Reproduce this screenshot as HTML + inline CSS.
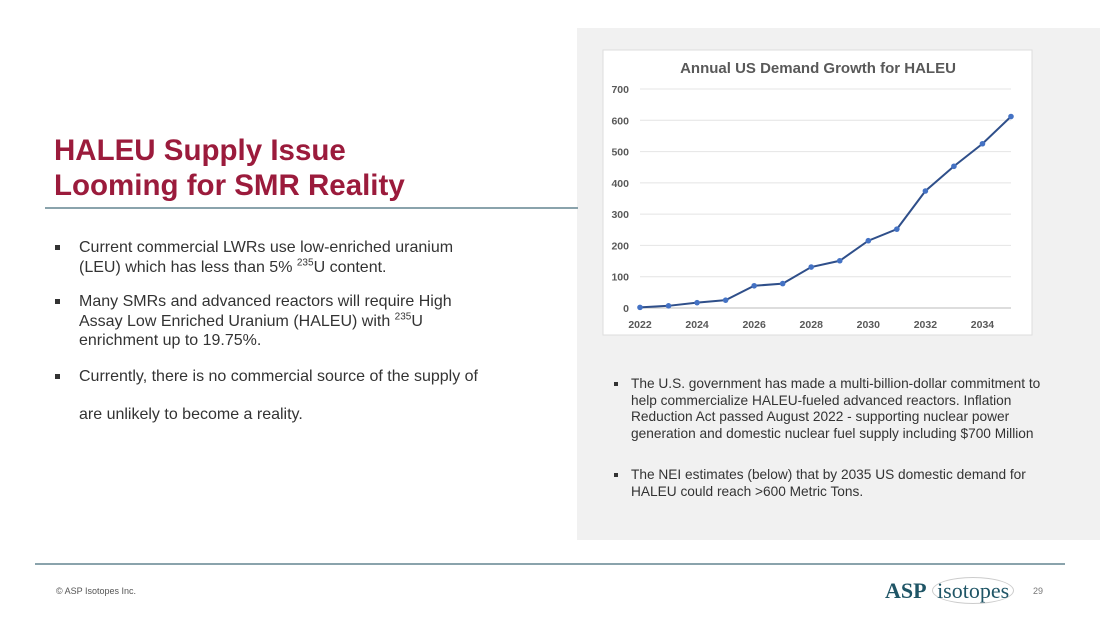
<!DOCTYPE html>
<html><head><meta charset="utf-8"><style>
body{margin:0;width:1100px;height:619px;background:#fff;position:relative;overflow:hidden;font-family:"Liberation Sans",Arial,sans-serif}
.abs{position:absolute}
.title{left:54px;top:133px;color:#9b1b3c;font-weight:bold;font-size:29.5px;line-height:35px}
ul{margin:0;padding:0;list-style:none}
li{position:relative;padding-left:25px;font-size:16px;line-height:19.5px;color:#333}
li:before{content:"";position:absolute;left:1px;top:7px;width:5px;height:5px;background:#333}
.r li{font-size:13.7px;line-height:16.7px;padding-left:19px;color:#333}
.r li:before{top:6px;width:4px;height:4px;left:2px}
sup{font-size:10px;line-height:0}
</style></head><body>
<div class="abs" style="left:577px;top:28px;width:523px;height:512px;background:#f1f1f1"></div>
<div class="abs title">HALEU Supply Issue<br>Looming for SMR Reality</div>
<div class="abs" style="left:45px;top:207px;width:533px;height:2px;background:#8aa3ac"></div>
<ul class="abs" style="left:54px;top:238px;width:427px">
<li>Current commercial LWRs use low-enriched uranium (LEU) which has less than 5% <sup>235</sup>U content.</li>
<li style="margin-top:15px">Many SMRs and advanced reactors will require High Assay Low Enriched Uranium (HALEU) with <sup>235</sup>U enrichment up to 19.75%.</li>
<li style="margin-top:16px">Currently, there is no commercial source of the supply of<br><span style="display:block;height:19px"></span>are unlikely to become a reality.</li>
</ul>
<ul class="abs r" style="left:612px;top:376px;width:440px">
<li>The U.S. government has made a multi-billion-dollar commitment to help commercialize HALEU-fueled advanced reactors. Inflation Reduction Act passed August 2022 - supporting nuclear power generation and domestic nuclear fuel supply including $700 Million</li>
<li style="margin-top:24px">The NEI estimates (below) that by 2035 US domestic demand for HALEU could reach &gt;600 Metric Tons.</li>
</ul>
<svg class="abs" style="left:0;top:0" width="1100" height="619" id="ch"></svg>
<div class="abs" style="left:35px;top:563px;width:1030px;height:2px;background:#8aa3ac"></div>
<div class="abs" style="left:56px;top:586px;font-size:9px;color:#555">© ASP Isotopes Inc.</div>
<div class="abs" style="left:885px;top:578px;font-family:'Liberation Serif',serif;font-size:22px;color:#1f5566"><b>ASP</b> <span style="border:1px solid #ccc;border-radius:50%;padding:0 4px">isotopes</span></div>
<div class="abs" style="left:1033px;top:586px;font-size:9px;color:#777">29</div>
<script>
const years=[2022,2023,2024,2025,2026,2027,2028,2029,2030,2031,2032,2033,2034,2035];
const demand=[2,7,17,25,71,78,131,151,215,252,374,453,525,612];
const yTicks=[0,100,200,300,400,500,600,700];
const xTicks=[2022,2024,2026,2028,2030,2032,2034];
const svg=document.getElementById('ch');const NS='http://www.w3.org/2000/svg';
const X=v=>640+(v-2022)*(1011-640)/13, Y=v=>308-v*(308-89)/700;
function el(t,a,txt){const e=document.createElementNS(NS,t);for(const k in a)e.setAttribute(k,a[k]);if(txt!==undefined)e.textContent=txt;svg.appendChild(e);return e;}
const bg=el('rect',{x:603,y:50,width:429,height:285,fill:'#fff',stroke:'#ddd'});


const t=el('text',{x:818,y:73,'text-anchor':'middle','font-size':15,'font-weight':'bold',fill:'#595959'},'Annual US Demand Growth for HALEU');


yTicks.forEach(v=>{const g=el('line',{x1:640,x2:1011,y1:Y(v),y2:Y(v),stroke:v?'#e4e4e4':'#bbb'});


const l=el('text',{x:629,y:Y(v)+4,'text-anchor':'end','font-size':10.5,'font-weight':'bold',fill:'#595959'},v);

});
xTicks.forEach(v=>{const l=el('text',{x:X(v),y:328,'text-anchor':'middle','font-size':10.5,'font-weight':'bold',fill:'#595959'},v);

});
const p=el('polyline',{points:years.map((y,i)=>X(y)+','+Y(demand[i])).join(' '),fill:'none',stroke:'#2f4f8a','stroke-width':2});


years.forEach((y,i)=>{const c=el('circle',{cx:X(y),cy:Y(demand[i]),r:2.8,fill:'#4472c4'});

});
</script>
</body></html>
